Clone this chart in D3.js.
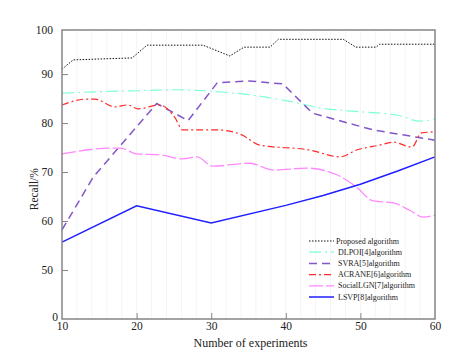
<!DOCTYPE html>
<html>
<head>
<meta charset="utf-8">
<script src="https://cdn.jsdelivr.net/npm/d3@7"></script>
<style>
  body { margin: 0; background: #fff; }
  text { font-family: "Liberation Serif", "DejaVu Serif", serif; fill: #222; }
</style>
</head>
<body>
<svg id="chart"></svg>
<script>
// data
const xTicks = [10, 20, 30, 40, 50, 60];
const yTicks = [40, 50, 60, 70, 80, 90, 99];
const yTickLabels = ["0", "50", "60", "70", "80", "90", "100"];

const proposedX = [10, 11.5, 19.4, 21.4, 28.9, 32.5, 34.4, 37.9, 39, 47.7, 49.4, 52.1, 52.6, 60];
const proposedY = [91.0, 92.9, 93.3, 95.9, 95.9, 93.7, 95.5, 95.5, 97.1, 97.1, 95.5, 95.5, 96.1, 96.1];

const dlpoiX = [10, 15, 20, 25, 30, 35, 40, 45, 50, 55, 58, 60];
const dlpoiY = [86.1, 86.4, 86.6, 86.8, 86.5, 85.8, 84.6, 83.0, 82.3, 81.6, 80.4, 80.8];

const svraX = [10, 14.2, 22.7, 26.9, 30.8, 35, 39.6, 43.6, 51.7, 60];
const svraY = [58.2, 69.0, 84.0, 80.5, 88.2, 88.6, 88.0, 82.0, 78.6, 76.5];

const acraneX = [10, 13.3, 14.4, 17.1, 18.8, 20.2, 23.1, 25.1, 26.2, 30.8, 34.1, 36.5, 43.2, 47.3, 49.5, 52.6, 54.4, 56.9, 58.2, 60];
const acraneY = [83.7, 84.9, 84.9, 83.3, 83.7, 82.9, 83.7, 81.2, 78.6, 78.6, 77.6, 75.5, 74.5, 73.1, 74.5, 75.5, 76.1, 75.1, 78.0, 78.2];

const socialX = [10, 16.8, 17.8, 20, 23.1, 26.2, 28.1, 30.2, 35.2, 38.3, 42.8, 46.9, 49.5, 51.7, 54.4, 56.6, 58.4, 60];
const socialY = [73.7, 74.9, 74.9, 73.7, 73.5, 72.7, 73.1, 71.2, 71.8, 70.4, 70.8, 69.4, 66.9, 64.1, 63.7, 62.2, 60.8, 61.2];

const lsvpX = [10, 20, 30, 40, 45, 50, 55, 60];
const lsvpY = [55.7, 63.1, 59.6, 63.2, 65.2, 67.5, 70.2, 73.1];

const seriesNames = ["Proposed algorithm", "DLPOI[4]algorithm", "SVRA[5]algorithm",
                     "ACRANE[6]algorithm", "SocialLGN[7]algorithm", "LSVP[8]algorithm"];

const width = 457, height = 362;
const margin = {top: 30, right: 22, bottom: 43, left: 62};

const svg = d3.select("#chart")
    .attr("width", width)
    .attr("height", height);

const x = d3.scaleLinear().domain([10, 60]).range([margin.left, width - margin.right]);
const y = d3.scaleLinear().domain([40, 99]).range([height - margin.bottom, margin.top]);

// faint vertical background lines
svg.append("g")
    .selectAll("line")
    .data(d3.range(12, 60, 2))
    .join("line")
    .attr("x1", d => x(d)).attr("x2", d => x(d))
    .attr("y1", margin.top).attr("y2", height - margin.bottom)
    .attr("stroke", "#f4f4f4")
    .attr("stroke-width", 1);

const styles = [
  {color: "#111", width: 1, dash: "1.5,1.5", curve: d3.curveLinear},
  {color: "#7dffd8", width: 1.2, dash: "12,4,2,4", curve: d3.curveMonotoneX},
  {color: "#8456c8", width: 1.5, dash: "8,5", curve: d3.curveLinear},
  {color: "#ff2a2a", width: 1.2, dash: "7,3,2,3", curve: d3.curveMonotoneX},
  {color: "#ff88ff", width: 1.3, dash: "14,3", curve: d3.curveMonotoneX},
  {color: "#1f1fff", width: 1.5, dash: null, curve: d3.curveLinear}
];

const allX = [proposedX, dlpoiX, svraX, acraneX, socialX, lsvpX];
const allY = [proposedY, dlpoiY, svraY, acraneY, socialY, lsvpY];

const series = seriesNames.map((name, i) => ({
  name: name,
  style: styles[i],
  points: allX[i].map((v, j) => [v, allY[i][j]])
}));

const plot = svg.append("g");
series.forEach(s => {
  const line = d3.line()
      .x(d => x(d[0]))
      .y(d => y(d[1]))
      .curve(s.style.curve);
  plot.append("path")
      .datum(s.points)
      .attr("d", line)
      .attr("fill", "none")
      .attr("stroke", s.style.color)
      .attr("stroke-width", s.style.width)
      .attr("stroke-dasharray", s.style.dash);
});

// frame
const axisColor = "#858585";
svg.append("rect")
    .attr("x", margin.left).attr("y", margin.top)
    .attr("width", width - margin.left - margin.right)
    .attr("height", height - margin.top - margin.bottom)
    .attr("fill", "none")
    .attr("stroke", axisColor)
    .attr("stroke-width", 1.5);

// x axis: inner ticks
const xAxis = svg.append("g")
    .attr("transform", `translate(0,${height - margin.bottom})`)
    .call(d3.axisBottom(x).tickValues(xTicks).tickSize(0).tickPadding(3))
    .call(g => g.select(".domain").remove());
xAxis.selectAll(".tick text").attr("font-size", 11.5).attr("font-family", "Liberation Serif");
xAxis.selectAll(".tick")
    .filter(d => d !== 10 && d !== 60)
    .append("line")
    .attr("y1", 0).attr("y2", -6)
    .attr("stroke", axisColor);

// y axis: inner ticks
const yAxis = svg.append("g")
    .attr("transform", `translate(${margin.left},0)`)
    .call(d3.axisLeft(y).tickValues(yTicks).tickSize(0).tickPadding(9)
        .tickFormat((d, i) => yTickLabels[i]))
    .call(g => g.select(".domain").remove());
yAxis.selectAll(".tick text").attr("font-size", 11.5).attr("font-family", "Liberation Serif");
yAxis.selectAll(".tick")
    .filter(d => d !== 40 && d !== 99)
    .append("line")
    .attr("x1", 0).attr("x2", 6)
    .attr("stroke", axisColor);
// the "0" label sits up against the corner
yAxis.selectAll(".tick")
    .filter(d => d === 40)
    .select("text")
    .attr("x", -4).attr("dy", "0.1em");

// axis titles
svg.append("text")
    .attr("x", (margin.left + width - margin.right) / 2 + 2)
    .attr("y", height - 15)
    .attr("text-anchor", "middle")
    .attr("font-size", 12)
    .text("Number of experiments");

svg.append("text")
    .attr("transform", `translate(38,${y(66.5)}) rotate(-90)`)
    .attr("text-anchor", "middle")
    .attr("font-size", 11.5)
    .text("Recall/%");

// legend
const legend = svg.append("g")
    .attr("transform", `translate(309,241)`);
const rowH = 11.2;
series.forEach((s, i) => {
  const row = legend.append("g").attr("transform", `translate(0,${i * rowH})`);
  row.append("line")
      .attr("x1", 0).attr("x2", 25)
      .attr("y1", 0).attr("y2", 0)
      .attr("stroke", s.style.color)
      .attr("stroke-width", s.style.width)
      .attr("stroke-dasharray", s.style.dash);
  row.append("text")
      .attr("x", i === 0 ? 27 : 29)
      .attr("y", 0)
      .attr("dy", "0.32em")
      .attr("font-size", 8)
      .text(s.name);
});
</script>
</body>
</html>
